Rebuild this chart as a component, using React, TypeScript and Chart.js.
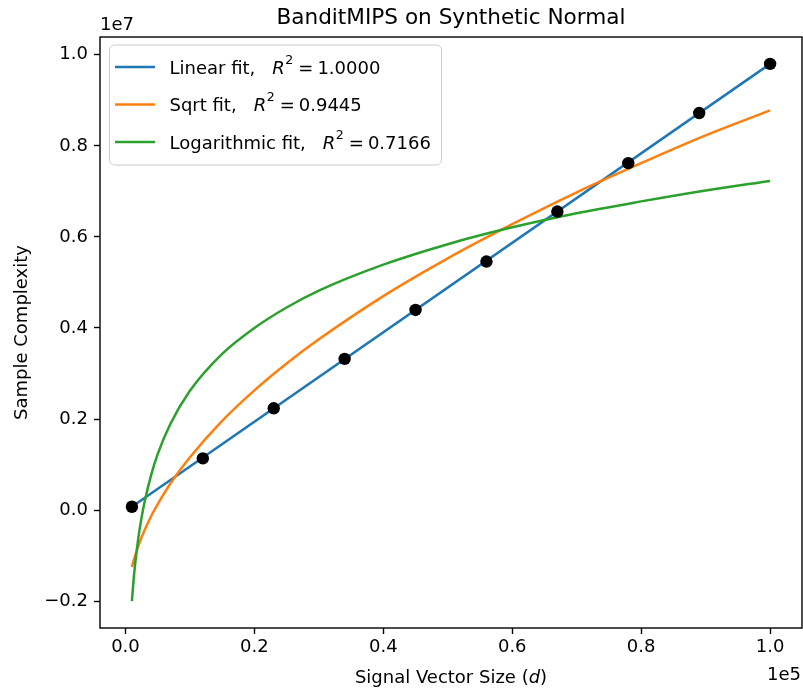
import React, { useEffect, useRef } from 'react';
import { Chart, registerables } from 'chart.js';

Chart.register(...registerables);

const FONT = "'DejaVu Sans', 'Liberation Sans', sans-serif";

// ---- text ----
const TITLE = 'BanditMIPS on Synthetic Normal';
const X_LABEL_PARTS = ['Signal Vector Size (', 'd', ')'];
const Y_LABEL = 'Sample Complexity';
const X_OFFSET_TEXT = '1e5';
const Y_OFFSET_TEXT = '1e7';

// ---- observed data ----
const sizeX = [1000, 12000, 23000, 34000, 45000, 56000, 67000, 78000, 89000, 100000];
const complexity = [7.3e4, 1.136e6, 2.235e6, 3.32e6, 4.396e6, 5.458e6, 6.557e6, 7.62e6, 8.72e6, 9.8e6];

// ---- fitted curves ----
const linearFitX = [1000, 100000];
const linearFitY = [7.4e4, 9.8e6];

const curveX = [1000, 1200, 1500, 2000, 2500, 3000, 4000, 5000, 7000, 10000, 15000, 20000, 25000, 30000, 40000, 50000, 60000, 70000, 80000, 90000, 100000];
const sqrtFitY = [-1.25e6, -1.14e6, -1.0e6, -0.79e6, -0.6e6, -0.43e6, -0.13e6, 0.13e6, 0.59e6, 1.16e6, 1.96e6, 2.63e6, 3.22e6, 3.75e6, 4.7e6, 5.53e6, 6.28e6, 6.98e6, 7.62e6, 8.23e6, 8.78e6];
const logFitY = [-2.0e6, -1.63e6, -1.19e6, -0.61e6, -0.16e6, 0.2e6, 0.78e6, 1.23e6, 1.9e6, 2.62e6, 3.43e6, 4.0e6, 4.45e6, 4.82e6, 5.39e6, 5.84e6, 6.21e6, 6.52e6, 6.78e6, 7.02e6, 7.23e6];

// ---- legend ----
const fitNames = ['Linear fit,', 'Sqrt fit,', 'Logarithmic fit,'];
const fitR2 = ['1.0000', '0.9445', '0.7166'];
const fitColors = ['#1f77b4', '#ff7f0e', '#2ca02c'];

// ---- axes ----
const xTicks = [0, 20000, 40000, 60000, 80000, 100000];
const yTicks = [-2e6, 0, 2e6, 4e6, 6e6, 8e6, 1e7];
const X_MIN = -3950;
const X_MAX = 104950;
const Y_MIN = -2.59e6;
const Y_MAX = 1.039e7;

const pts = (xs: number[], ys: number[]) => xs.map((x, i) => ({ x, y: ys[i] }));
const fmt = (v: number, d: number) => (v / d).toFixed(1).replace('-', '\u2212');

const FS = 18;

const decorPlugin = {
  id: 'decor',
  afterDatasetsDraw(chart: any) {
    const { ctx, chartArea: ca } = chart;
    ctx.save();
    ctx.strokeStyle = '#000';
    ctx.lineWidth = 1.4;
    ctx.strokeRect(ca.left, ca.top, ca.right - ca.left, ca.bottom - ca.top);
    ctx.restore();
  },
  afterDraw(chart: any) {
    const { ctx, chartArea: ca } = chart;
    const normal = `${FS}px ${FONT}`;
    const italic = `italic ${FS}px ${FONT}`;
    ctx.save();
    ctx.fillStyle = '#000';
    ctx.textBaseline = 'alphabetic';

    // offset texts
    ctx.font = normal;
    ctx.textAlign = 'left';
    ctx.fillText(Y_OFFSET_TEXT, ca.left, ca.top - 7);
    ctx.textAlign = 'right';
    ctx.fillText(X_OFFSET_TEXT, ca.right - 1, ca.bottom + 52);

    // x axis label with italic d
    ctx.textAlign = 'left';
    const widths = X_LABEL_PARTS.map((t, i) => {
      ctx.font = i === 1 ? italic : normal;
      return ctx.measureText(t).width;
    });
    const total = widths.reduce((a, b) => a + b, 0);
    let x = (ca.left + ca.right) / 2 - total / 2;
    X_LABEL_PARTS.forEach((t, i) => {
      ctx.font = i === 1 ? italic : normal;
      ctx.fillText(t, x, ca.bottom + 55);
      x += widths[i];
    });

    // legend
    const lx = ca.left + 9.5;
    const ly = ca.top + 8;
    const lw = 332;
    const lh = 120;
    ctx.beginPath();
    ctx.roundRect(lx, ly, lw, lh, 5);
    ctx.fillStyle = 'rgba(255,255,255,0.8)';
    ctx.fill();
    ctx.strokeStyle = '#cccccc';
    ctx.lineWidth = 1;
    ctx.stroke();

    fitNames.forEach((name, i) => {
      const ry = ly + 22 + i * 37.5;
      ctx.beginPath();
      ctx.moveTo(lx + 5.5, ry);
      ctx.lineTo(lx + 45.5, ry);
      ctx.strokeStyle = fitColors[i];
      ctx.lineWidth = 2.5;
      ctx.stroke();

      const base = ry + 6.5;
      ctx.fillStyle = '#000';
      let tx = lx + 60;
      ctx.font = normal;
      ctx.fillText(name, tx, base);
      tx += ctx.measureText(name).width + 17;
      ctx.font = italic;
      ctx.fillText('R', tx, base);
      tx += ctx.measureText('R').width + 0.5;
      ctx.font = `${FS * 0.7}px ${FONT}`;
      ctx.fillText('2', tx, base - 10);
      tx += ctx.measureText('2').width + 5;
      ctx.font = normal;
      ctx.fillText('=', tx, base);
      tx += ctx.measureText('=').width + 4;
      ctx.fillText(fitR2[i], tx, base);
    });
    ctx.restore();
  },
};

export default function App() {
  const ref = useRef<HTMLCanvasElement | null>(null);

  useEffect(() => {
    if (!ref.current) return;
    const tickFont = { family: FONT, size: FS };
    const chart = new Chart(ref.current, {
      type: 'line',
      data: {
        datasets: [
          {
            label: 'Data',
            data: pts(sizeX, complexity),
            showLine: false,
            pointRadius: 6.2,
            pointBackgroundColor: '#000',
            pointBorderColor: '#000',
            pointBorderWidth: 0,
            order: 0,
          },
          {
            label: fitNames[0],
            data: pts(linearFitX, linearFitY),
            borderColor: fitColors[0],
            borderWidth: 2.5,
            pointRadius: 0,
            fill: false,
            order: 3,
          },
          {
            label: fitNames[1],
            data: pts(curveX, sqrtFitY),
            borderColor: fitColors[1],
            borderWidth: 2.5,
            pointRadius: 0,
            fill: false,
            cubicInterpolationMode: 'monotone',
            order: 2,
          },
          {
            label: fitNames[2],
            data: pts(curveX, logFitY),
            borderColor: fitColors[2],
            borderWidth: 2.5,
            pointRadius: 0,
            fill: false,
            cubicInterpolationMode: 'monotone',
            order: 1,
          },
        ],
      },
      options: {
        animation: false,
        responsive: false,
        devicePixelRatio: 1,
        layout: { autoPadding: false, padding: { left: 0, right: 1, top: 0, bottom: 0 } },
        plugins: {
          legend: { display: false },
          tooltip: { enabled: false },
          title: {
            display: true,
            text: TITLE,
            fullSize: false,
            color: '#000',
            font: { family: FONT, size: 21.6, weight: 'normal' },
            padding: { top: 5.5, bottom: 5.6 },
          },
        },
        scales: {
          x: {
            type: 'linear',
            min: X_MIN,
            max: X_MAX,
            afterFit: (s: any) => {
              s.height = 63;
              s.paddingLeft = 0;
              s.paddingRight = 0;
            },
            afterBuildTicks: (s: any) => { s.ticks = xTicks.map((v) => ({ value: v })); },
            ticks: {
              color: '#000',
              font: tickFont,
              padding: 3,
              maxRotation: 0,
              autoSkip: false,
              callback: (v: any) => fmt(Number(v), 1e5),
            },
            grid: { drawOnChartArea: false, drawTicks: true, tickLength: 6, tickWidth: 1.4, tickColor: '#000' },
            border: { display: false },
          },
          y: {
            type: 'linear',
            min: Y_MIN,
            max: Y_MAX,
            afterFit: (s: any) => {
              s.width = 100;
              s.paddingTop = 0;
              s.paddingBottom = 0;
            },
            afterBuildTicks: (s: any) => { s.ticks = yTicks.map((v) => ({ value: v })); },
            ticks: {
              color: '#000',
              font: tickFont,
              padding: 6,
              autoSkip: false,
              callback: (v: any) => fmt(Number(v), 1e7),
            },
            title: {
              display: true,
              text: Y_LABEL,
              color: '#000',
              font: { family: FONT, size: FS },
              padding: { top: 11.5, bottom: 0 },
            },
            grid: { drawOnChartArea: false, drawTicks: true, tickLength: 6, tickWidth: 1.4, tickColor: '#000' },
            border: { display: false },
          },
        },
      },
      plugins: [decorPlugin],
    } as any);
    return () => chart.destroy();
  }, []);

  return (
    <div style={{ position: 'absolute', left: 0, top: 0, width: 803, height: 691, background: '#fff' }}>
      <canvas ref={ref} width={803} height={691} style={{ display: 'block' }} />
    </div>
  );
}
